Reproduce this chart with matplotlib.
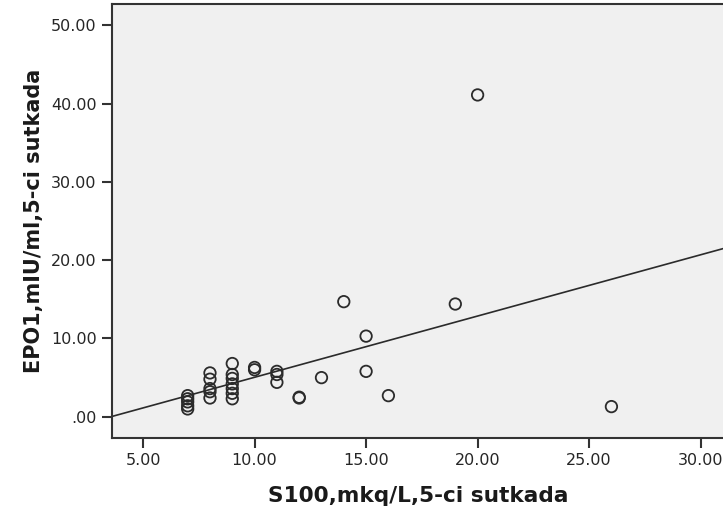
import numpy as np
import matplotlib
matplotlib.use('Agg')
import matplotlib.pyplot as plt

# S100 (x) and EPO1 (y) values
s100 = [7, 7, 7, 7, 7,
        8, 8, 8, 8, 8,
        9, 9, 9, 9, 9, 9, 9,
        10, 10,
        11, 11, 11,
        12, 12,
        13, 14, 15, 15, 16, 19, 20, 26]
epo1 = [2.7, 2.3, 1.9, 1.4, 1.0,
        5.6, 4.8, 3.6, 3.2, 2.4,
        6.8, 5.4, 4.9, 4.2, 3.6, 3.0, 2.3,
        6.3, 6.0,
        5.8, 5.4, 4.4,
        2.5, 2.4,
        5.0, 14.7, 10.3, 5.8, 2.7, 14.4, 41.1, 1.3]

xticks = [5, 10, 15, 20, 25, 30]
yticks = [0, 10, 20, 30, 40, 50]

fig = plt.figure(figsize=(7.23, 5.11), dpi=100)
ax = fig.add_axes([0.155, 0.143, 0.848, 0.849])
ax.set_facecolor('#f0f0f0')

ax.scatter(s100, epo1, s=68, facecolors='none', edgecolors='#2b2b2b',
           linewidths=1.3, zorder=3)

# linear fit line across the full x range
slope, intercept = np.polyfit(s100, epo1, 1)
xlim = (3.61, 31.1)
xs = np.array(xlim)
ax.plot(xs, intercept + slope * xs, color='#2b2b2b', linewidth=1.2, zorder=2)

ax.set_xlim(*xlim)
ax.set_ylim(-2.7, 52.7)
ax.set_xticks(xticks)
ax.set_yticks(yticks)
ax.set_xticklabels(['%.2f' % v for v in xticks])
ax.set_yticklabels(['.00'] + ['%.2f' % v for v in yticks[1:]])

for lab in ax.get_xticklabels() + ax.get_yticklabels():
    lab.set_fontfamily('DejaVu Sans')
    lab.set_fontsize(11.5)
    lab.set_color('#262626')
ax.tick_params(direction='out', length=7, width=1.5, color='#333333', pad=4)
for spine in ax.spines.values():
    spine.set_color('#333333')
    spine.set_linewidth(1.5)

ax.set_xlabel('S100,mkq/L,5-ci sutkada', fontfamily='DejaVu Sans', fontsize=15.6,
              fontweight='bold', color='#1a1a1a', labelpad=13)
ax.set_ylabel('EPO1,mIU/ml,5-ci sutkada', fontfamily='DejaVu Sans', fontsize=15,
              fontweight='bold', color='#1a1a1a', labelpad=5)

fig.savefig('out.png', dpi=100, facecolor='white')
plt.close(fig)
